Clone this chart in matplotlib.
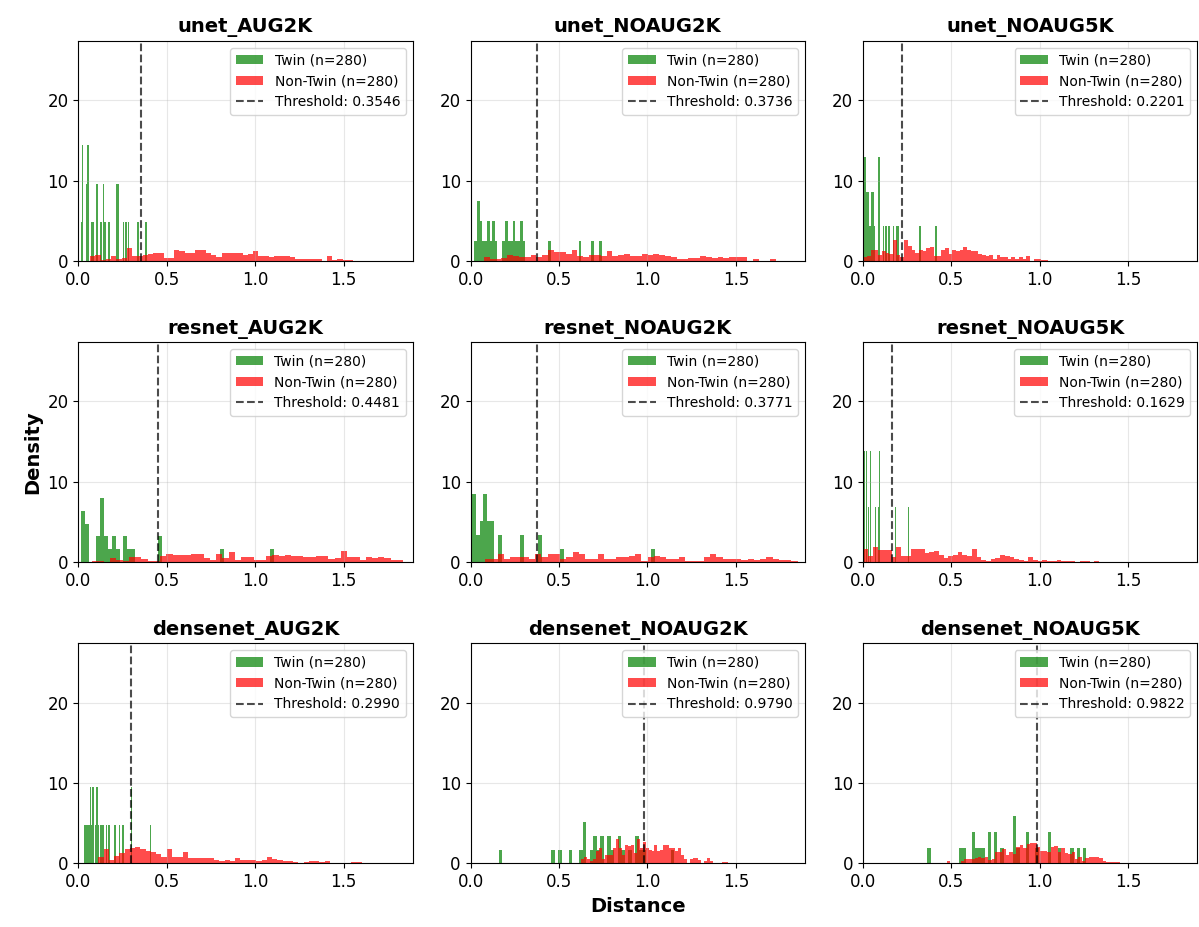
"""Twin vs non-twin distance distributions for the nine model variants."""

import matplotlib

matplotlib.use("Agg")
import matplotlib.pyplot as plt  # noqa: E402
import numpy as np  # noqa: E402

plt.rcParams["font.size"] = 12

MODELS = [
    "unet_AUG2K", "unet_NOAUG2K", "unet_NOAUG5K",
    "resnet_AUG2K", "resnet_NOAUG2K", "resnet_NOAUG5K",
    "densenet_AUG2K", "densenet_NOAUG2K", "densenet_NOAUG5K",
]
THRESHOLDS = [0.3546, 0.3736, 0.2201, 0.4481, 0.3771, 0.1629, 0.2990, 0.9790, 0.9822]
N_TWIN = [280] * 9
N_NONTWIN = [280] * 9
N_BINS = 50

# twin pairs: data range of the histogram, occupied bins (distance) and their density
TWIN_RANGE = [
    (0.013, 0.386), (0.022, 0.741), (0.004, 0.418),
    (0.015, 1.108), (0.011, 1.041), (0.0, 0.26),
    (0.034, 0.41), (0.16, 1.15), (0.365, 1.263),
]
TWIN_X = [
    [0.0167, 0.0242, 0.0466, 0.0540, 0.0764, 0.0839, 0.1063, 0.1287, 0.1436,
     0.1511, 0.1735, 0.2182, 0.2257, 0.2555, 0.2705, 0.2854, 0.3376, 0.3824],
    [0.029, 0.044, 0.058, 0.072, 0.087, 0.101, 0.115, 0.130, 0.144, 0.187, 0.202,
     0.216, 0.230, 0.245, 0.259, 0.274, 0.288, 0.302, 0.446, 0.619, 0.690, 0.734],
    [0.008, 0.016, 0.025, 0.033, 0.041, 0.050, 0.058, 0.066, 0.091, 0.116, 0.132,
     0.149, 0.174, 0.190, 0.199, 0.323, 0.414],
    [0.026, 0.048, 0.113, 0.135, 0.157, 0.179, 0.201, 0.223, 0.266, 0.288, 0.310,
     0.463, 0.813, 1.097],
    [0.021, 0.042, 0.063, 0.083, 0.104, 0.124, 0.166, 0.289, 0.402, 0.506, 1.030],
    [0.0026, 0.0078, 0.0234, 0.0338, 0.0442, 0.0702, 0.0858, 0.0910, 0.0962,
     0.1846, 0.2574],
    [0.0378, 0.0453, 0.0528, 0.0603, 0.0678, 0.0754, 0.0829, 0.0979, 0.1054,
     0.1130, 0.1280, 0.1355, 0.1430, 0.1580, 0.1731, 0.2031, 0.2106, 0.2332,
     0.2482, 0.2558, 0.3009, 0.4062],
    [0.170, 0.467, 0.507, 0.566, 0.625, 0.645, 0.685, 0.705, 0.724, 0.744, 0.784,
     0.804, 0.843, 0.863, 0.903, 0.942, 0.962, 0.982, 1.140],
    [0.374, 0.554, 0.572, 0.617, 0.635, 0.653, 0.671, 0.715, 0.751, 0.796, 0.859,
     0.877, 0.931, 0.985, 1.056, 1.110, 1.182, 1.218, 1.254],
]
TWIN_DENSITY = [
    [4.8, 14.4, 9.6, 14.4, 4.8, 4.8, 9.6, 4.8, 9.6, 4.8, 4.8, 9.6, 9.6, 4.8, 4.8,
     4.8, 4.8, 4.8],
    [2.5, 7.5, 5.0, 2.5, 2.5, 5.0, 2.5, 5.0, 2.5, 2.5, 5.0, 2.5, 2.5, 5.0, 2.5,
     2.5, 5.0, 2.5, 2.5, 2.5, 2.5, 2.5],
    [12.9, 12.9, 8.6, 8.6, 4.3, 8.6, 8.6, 4.3, 12.9, 4.3, 4.3, 4.3, 4.3, 4.3, 4.3,
     4.3, 4.3],
    [6.4, 4.7, 3.2, 8.0, 3.2, 1.6, 3.2, 1.6, 3.2, 1.6, 1.6, 3.2, 1.6, 1.6],
    [8.5, 3.4, 5.1, 8.5, 5.1, 5.1, 3.4, 3.4, 3.4, 1.7, 1.7],
    [6.9, 13.8, 13.8, 6.9, 13.8, 6.9, 13.8, 6.9, 13.8, 6.9, 6.9],
    [4.8, 4.8, 4.8, 4.8, 9.5, 4.8, 9.5, 4.8, 9.5, 4.8, 4.8, 4.8, 4.8, 4.8, 4.8,
     4.8, 4.8, 4.8, 4.8, 4.8, 9.5, 4.8],
    [1.7, 1.7, 1.7, 1.7, 1.7, 5.1, 1.7, 3.4, 1.7, 3.4, 3.4, 1.7, 3.4, 1.7, 1.7,
     3.4, 1.7, 1.7, 1.7],
    [1.9, 1.9, 1.9, 3.9, 1.9, 1.9, 1.9, 3.9, 3.9, 1.9, 5.9, 1.9, 3.9, 1.9, 3.9,
     1.9, 1.9, 1.9, 1.9],
]

# non-twin pairs: data range and relative height of each of the 50 bins
# (normalised to a density by hist)
NONTWIN_RANGE = [
    (0.066, 1.554), (0.075, 1.727), (0.004, 1.049),
    (0.075, 1.836), (0.083, 1.849), (0.004, 1.335),
    (0.113, 1.601), (0.625, 1.454), (0.475, 1.454),
]
NONTWIN_HEIGHT = [
    [0.6, 0.8, 0.2, 0.3, 0.6, 0.3, 0.4, 1.7, 0.7, 0.7, 0.8, 0.9, 1.0, 1.1, 0.4,
     0.4, 1.4, 1.3, 1.1, 1.0, 1.4, 1.4, 1.0, 0.8, 0.5, 1.0, 1.1, 1.1, 1.0, 0.8,
     0.9, 1.25, 0.7, 0.6, 0.5, 0.6, 0.7, 0.6, 0.5, 0.3, 0.3, 0.3, 0.3, 0.3, 0.0,
     0.6, 0.2, 0.3, 0.2, 0.2],
    [0.5, 0.3, 0.2, 0.4, 0.8, 0.7, 0.5, 0.5, 0.8, 0.5, 0.8, 1.45, 1.2, 1.1, 0.95,
     1.45, 0.6, 0.5, 0.8, 0.8, 0.6, 1.3, 0.6, 0.8, 0.95, 0.6, 0.6, 0.95, 0.8,
     0.95, 0.8, 0.6, 0.5, 0.3, 0.3, 0.4, 0.4, 0.6, 0.5, 0.4, 0.5, 0.4, 0.5, 0.5,
     0.5, 0.0, 0.2, 0.0, 0.0, 0.3],
    [0.5, 0.6, 1.45, 1.45, 0.8, 1.25, 1.1, 0.95, 2.7, 0.8, 0.5, 2.7, 1.95, 1.45,
     1.1, 1.45, 1.25, 1.65, 1.8, 0.6, 0.7, 1.45, 1.65, 0.95, 1.45, 1.25, 1.45,
     1.8, 1.45, 1.35, 1.25, 0.95, 0.8, 0.6, 0.8, 0.3, 0.8, 0.5, 0.5, 0.3, 0.5,
     0.3, 0.5, 0.3, 0.6, 0.0, 0.3, 0.3, 0.2, 0.2],
    [0.15, 0.1, 0.05, 0.4, 0.2, 0.1, 0.5, 0.5, 0.3, 0.1, 0.1, 0.6, 0.9, 0.7, 0.7,
     0.7, 0.9, 0.9, 0.4, 0.2, 0.9, 0.4, 1.05, 0.2, 0.5, 0.5, 0.2, 0.2, 0.6, 0.7,
     0.6, 0.8, 0.6, 0.6, 0.5, 0.5, 0.6, 0.6, 0.3, 0.4, 1.2, 0.5, 0.5, 0.2, 0.5,
     0.4, 0.5, 0.4, 0.2, 0.2],
    [0.3, 0.4, 0.9, 0.4, 0.6, 0.6, 0.6, 0.3, 0.9, 0.6, 0.9, 0.9, 0.3, 0.6, 1.1,
     0.9, 0.4, 0.4, 0.9, 0.4, 0.3, 0.6, 0.6, 0.7, 0.9, 0.1, 0.6, 0.7, 0.6, 0.4,
     0.3, 0.6, 0.1, 0.1, 0.1, 0.6, 0.9, 0.6, 0.4, 0.4, 0.3, 0.2, 0.4, 0.2, 0.4,
     0.6, 0.4, 0.2, 0.2, 0.1],
    [1.6, 0.7, 1.75, 1.45, 1.45, 1.45, 0.6, 1.75, 0.7, 0.7, 1.6, 1.6, 1.55, 1.05,
     1.2, 1.3, 0.9, 0.5, 0.7, 0.9, 1.2, 0.9, 0.7, 1.55, 0.6, 0.3, 0.2, 0.4, 0.5,
     0.9, 0.7, 0.6, 0.4, 0.3, 0.2, 0.6, 0.3, 0.2, 0.3, 0.2, 0.1, 0.3, 0.2, 0.1,
     0.1, 0.0, 0.1, 0.2, 0.0, 0.2],
    [0.7, 1.5, 0.4, 0.75, 1.05, 1.5, 1.6, 1.7, 1.55, 1.35, 1.2, 1.0, 0.7, 1.5,
     0.7, 0.7, 1.2, 0.6, 0.6, 0.6, 0.6, 0.6, 0.35, 0.2, 0.35, 0.2, 0.6, 0.4,
     0.35, 0.4, 0.2, 0.35, 0.7, 0.5, 0.35, 0.2, 0.2, 0.1, 0.0, 0.1, 0.2, 0.2,
     0.1, 0.2, 0.0, 0.0, 0.0, 0.0, 0.1, 0.1],
    [0.4, 0.6, 0.4, 0.2, 0.4, 1.25, 1.5, 0.4, 0.85, 0.85, 0.85, 1.5, 2.5, 1.5,
     0.85, 1.9, 1.7, 1.9, 1.05, 2.5, 1.5, 2.2, 1.5, 1.35, 1.25, 1.9, 1.25, 1.35,
     1.9, 1.9, 1.5, 1.5, 1.2, 1.5, 0.85, 0.4, 0.0, 0.4, 0.5, 0.5, 0.35, 0.0,
     0.2, 0.5, 0.2, 0.0, 0.0, 0.0, 0.1, 0.1],
    [0.2, 0.0, 0.0, 0.0, 0.2, 0.4, 0.4, 0.4, 0.5, 0.6, 0.5, 0.6, 0.35, 0.4, 1.2,
     1.2, 1.5, 0.85, 1.2, 0.95, 1.7, 1.9, 1.6, 2.0, 2.1, 2.1, 1.7, 1.25, 1.25,
     1.2, 1.7, 1.8, 1.2, 1.6, 1.05, 0.95, 1.2, 0.4, 0.6, 0.2, 0.5, 0.6, 0.6, 0.6,
     0.5, 0.2, 0.1, 0.1, 0.1, 0.1],
]

fig, axes = plt.subplots(3, 3, figsize=(11.99, 9.27), dpi=100)
fig.subplots_adjust(left=0.0653, right=0.9985, bottom=0.0687, top=0.956,
                    wspace=0.173, hspace=0.367)

for k, ax in enumerate(axes.flat):
    lo, hi = TWIN_RANGE[k]
    edges = np.linspace(lo, hi, N_BINS + 1)
    ax.hist(TWIN_X[k], bins=edges, weights=TWIN_DENSITY[k], color="green",
            alpha=0.7, label=f"Twin (n={N_TWIN[k]})")

    lo, hi = NONTWIN_RANGE[k]
    edges = np.linspace(lo, hi, N_BINS + 1)
    centers = (edges[:-1] + edges[1:]) / 2
    ax.hist(centers, bins=edges, weights=NONTWIN_HEIGHT[k], density=True,
            color="red", alpha=0.7, label=f"Non-Twin (n={N_NONTWIN[k]})")

    ax.axvline(THRESHOLDS[k], color="black", linestyle="--", linewidth=1.5,
               alpha=0.7, label=f"Threshold: {THRESHOLDS[k]:.4f}")

    ax.set_title(MODELS[k], fontsize=14, fontweight="bold")
    ax.legend(loc="upper right", fontsize=10)
    ax.grid(True, alpha=0.3)
    ax.set_xlim(0, 1.89)
    ax.set_ylim(0, 27.4)
    ax.set_xticks([0.0, 0.5, 1.0, 1.5])
    ax.set_yticks([0, 10, 20])

axes[1, 0].set_ylabel("Density", fontsize=14, fontweight="bold")
axes[2, 1].set_xlabel("Distance", fontsize=14, fontweight="bold")

fig.savefig("out.png", dpi=100, facecolor="white")
plt.close(fig)
